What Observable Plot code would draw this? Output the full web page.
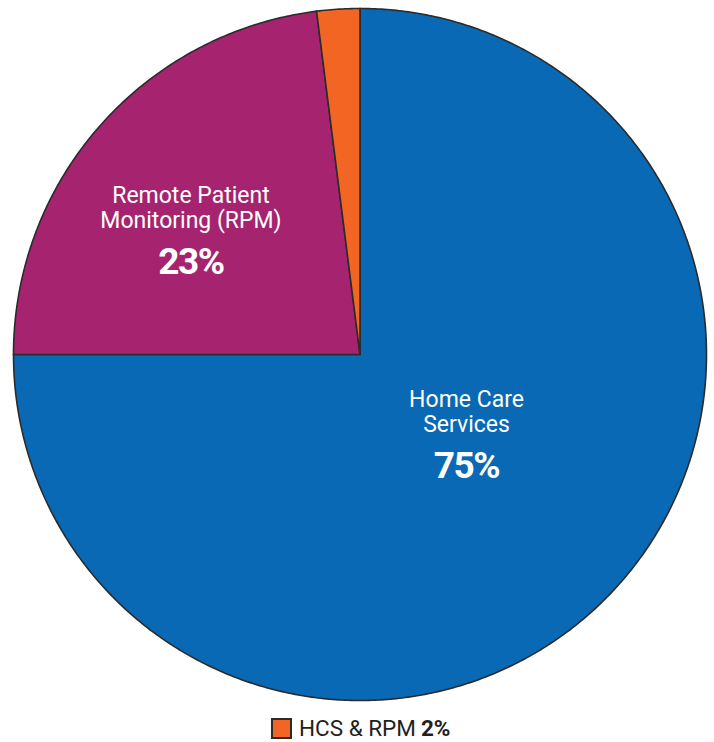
<!DOCTYPE html>
<html><head><meta charset="utf-8">
<script src="https://cdn.jsdelivr.net/npm/d3@7"></script>
<script src="https://cdn.jsdelivr.net/npm/@observablehq/plot@0.6"></script>
<style>
body{margin:0;background:#fff;font-family:Roboto,"Noto Sans",sans-serif;}
#chart g[font-weight="700"] text{letter-spacing:-1.5px;}
#legend{display:flex;align-items:center;margin:7px 0 0 271px;height:22px;font-size:22.5px;color:#231f20;}
#legend .sw{width:17px;height:17px;border:2px solid #2b2b2b;background:#f26522;margin-right:7px;}
#legend b{margin-left:5px;font-weight:700;}
</style></head><body><div id="chart"></div>
<script>
const categories = ["Home Care Services", "Remote Patient Monitoring (RPM)", "HCS & RPM"];
const labelText = ["Home Care\nServices", "Remote Patient\nMonitoring (RPM)", ""];
const shares = [75, 23, 2];
const colors = ["#0969b4", "#a6246f", "#f26522"];

// layout (style) constants
const labelLayout = [{r: 0.38, turn: -9}, {r: 0.61, turn: -4.5}, null];
const font = "Roboto, 'Noto Sans', sans-serif";

const arcs = d3.pie().sort(null).value(d => d)(shares);
const step = Math.PI / 360;
const wedgePts = [];
arcs.forEach((a, i) => {
  const key = categories[i];
  wedgePts.push({key, x: 0, y: 0});
  const n = Math.max(2, Math.ceil((a.endAngle - a.startAngle) / step));
  for (let k = 0; k <= n; k++) {
    const t = a.startAngle + (a.endAngle - a.startAngle) * k / n;
    wedgePts.push({key, x: Math.sin(t), y: Math.cos(t)});
  }
  wedgePts.push({key, x: 0, y: 0});
});

const labels = arcs.map((a, i) => {
  const L = labelLayout[i];
  if (!L) return null;
  const m = (a.startAngle + a.endAngle) / 2 + L.turn * Math.PI / 180;
  return {text: labelText[i], pct: shares[i] + "%", x: L.r * Math.sin(m), y: L.r * Math.cos(m)};
}).filter(d => d);

const chart = Plot.plot({
  width: 714, height: 710,
  marginLeft: 13, marginRight: 8, marginTop: 8, marginBottom: 10,
  x: {domain: [-1, 1], axis: null},
  y: {domain: [-1, 1], axis: null},
  color: {domain: categories, range: colors},
  marks: [
    Plot.line(wedgePts, {x: "x", y: "y", z: "key", fill: "key", stroke: "#2b2b2b", strokeWidth: 1.6, strokeLinejoin: "miter", strokeMiterlimit: 4}),
    Plot.text(labels, {x: "x", y: "y", text: "text", lineAnchor: "bottom", fill: "white", fontSize: 23, lineHeight: 1.09, fontFamily: font}),
    Plot.text(labels, {x: "x", y: "y", text: "pct", lineAnchor: "bottom", dy: 46, fill: "white", fontSize: 37, fontWeight: 700, fontFamily: font})
  ]
});
document.getElementById("chart").appendChild(chart);

const lg = document.createElement("div");
lg.id = "legend";
lg.innerHTML = `<span class="sw"></span><span>${categories[2]}</span><b>${shares[2]}%</b>`;
document.body.appendChild(lg);
</script></body></html>
